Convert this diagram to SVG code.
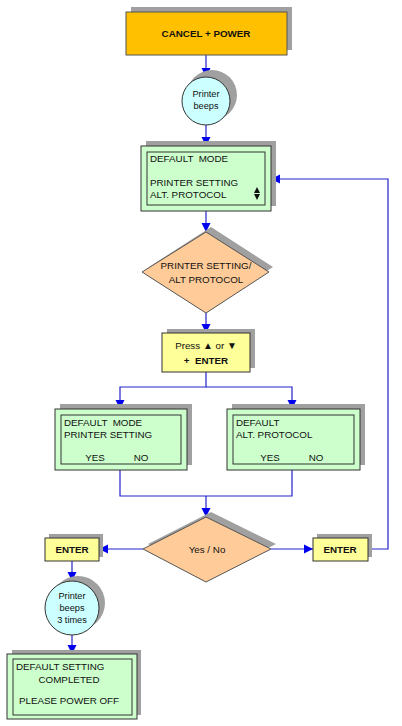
<svg xmlns="http://www.w3.org/2000/svg" width="402" height="726" viewBox="0 0 402 726">
<defs>
<marker id="ah" viewBox="0 0 10 10" refX="10" refY="5" markerWidth="9" markerHeight="10" markerUnits="userSpaceOnUse" orient="auto">
<path d="M0,0 L10,5 L0,10 z" fill="#0000EE"/>
</marker>
</defs>
<style>
text{font-family:"Liberation Sans",Arial,sans-serif;font-size:9.8px;fill:#111;white-space:pre}
.b{font-weight:bold}
.c{text-anchor:middle}
.sh{fill:#A0A0A0}
.lcd{fill:#CCFFCC;stroke:#333;stroke-width:1}
.yel{fill:#FFFF99;stroke:#333;stroke-width:1}
.dia{fill:#FFCC99;stroke:#555;stroke-width:1}
.cir{fill:#CCFFFF;stroke:#333;stroke-width:1}
.ln{fill:none;stroke:#2222CC;stroke-width:1.2}
</style>
<rect width="402" height="726" fill="#fff"/>
<g id="connectors">
<path class="ln" d="M206,55 V77" marker-end="url(#ah)"/>
<path class="ln" d="M206,125 V146" marker-end="url(#ah)"/>
<path class="ln" d="M206,211 V232" marker-end="url(#ah)"/>
<path class="ln" d="M206,313 V333" marker-end="url(#ah)"/>
<path class="ln" d="M206,372 V387 H120 V409" marker-end="url(#ah)"/>
<path class="ln" d="M206,387 H292 V409" marker-end="url(#ah)"/>
<path class="ln" d="M120,470 V496 H292 V470"/>
<path class="ln" d="M206,496 V517" marker-end="url(#ah)"/>
<path class="ln" d="M143,549 H99" marker-end="url(#ah)"/>
<path class="ln" d="M271,549 H313" marker-end="url(#ah)"/>
<path class="ln" d="M368,549 H388 V179 H271" marker-end="url(#ah)"/>
<path class="ln" d="M72,561 V581" marker-end="url(#ah)"/>
<path class="ln" d="M72,635 V654" marker-end="url(#ah)"/>
</g>
<g id="start">
<rect class="sh" x="131" y="7" width="161" height="43"/>
<rect x="126" y="12" width="161" height="43" fill="#FFC000" stroke="#555" stroke-width="1"/>
<text class="b c" x="206" y="37">CANCEL + POWER</text>
</g>
<g id="beep1">
<circle class="sh" cx="212" cy="95" r="25"/>
<circle class="cir" cx="206" cy="101" r="24"/>
<text class="c" x="206" y="97" style="font-size:9.2px">Printer</text>
<text class="c" x="206" y="109" style="font-size:9.2px">beeps</text>
</g>
<g id="lcd1">
<rect class="sh" x="146" y="141" width="130" height="65"/>
<rect class="lcd" x="141" y="146" width="130" height="65"/>
<rect class="lcd" x="147" y="152" width="118" height="53"/>
<text x="150" y="162">DEFAULT  MODE</text>
<text x="150" y="186">PRINTER SETTING</text>
<text x="150" y="198">ALT. PROTOCOL</text>
<polygon points="257,187 260,193 254,193" fill="#111"/>
<polygon points="254,194 260,194 257,200" fill="#111"/>
</g>
<g id="choice">
<polygon class="sh" points="211,227 273,267 211,307 149,267"/>
<polygon class="dia" points="206,232 269,272 206,313 142,272"/>
<text class="c" x="206" y="269">PRINTER SETTING/</text>
<text class="c" x="206" y="283">ALT PROTOCOL</text>
</g>
<g id="press">
<rect class="sh" x="167" y="329" width="88" height="39"/>
<rect class="yel" x="162" y="333" width="88" height="39"/>
<text class="c" x="206" y="349">Press <tspan style="font-size:10px">▲</tspan> or <tspan style="font-size:10px">▼</tspan></text>
<text class="c b" x="206" y="364">+  ENTER</text>
</g>
<g id="lcd2">
<rect class="sh" x="60" y="404" width="132" height="61"/>
<rect class="lcd" x="55" y="409" width="132" height="61"/>
<rect class="lcd" x="61" y="415" width="120" height="49"/>
<text x="64" y="426">DEFAULT  MODE</text>
<text x="64" y="438">PRINTER SETTING</text>
<text class="c" x="95" y="461">YES</text>
<text class="c" x="141" y="461">NO</text>
</g>
<g id="lcd3">
<rect class="sh" x="232" y="404" width="133" height="61"/>
<rect class="lcd" x="227" y="409" width="133" height="61"/>
<rect class="lcd" x="233" y="415" width="121" height="49"/>
<text x="236" y="426">DEFAULT</text>
<text x="236" y="438">ALT. PROTOCOL</text>
<text class="c" x="270" y="461">YES</text>
<text class="c" x="316" y="461">NO</text>
</g>
<g id="yesno">
<polygon class="sh" points="211,512 276,544 211,577 148,544"/>
<polygon class="dia" points="206,517 271,549 206,582 143,549"/>
<text class="c" x="207" y="553">Yes / No</text>
</g>
<g id="enterL">
<rect class="sh" x="49" y="534" width="54" height="23"/>
<rect class="yel" x="45" y="538" width="54" height="23"/>
<text class="c b" x="72" y="553">ENTER</text>
</g>
<g id="enterR">
<rect class="sh" x="317" y="534" width="55" height="23"/>
<rect class="yel" x="313" y="538" width="55" height="23"/>
<text class="c b" x="340" y="553">ENTER</text>
</g>
<g id="beep3">
<circle class="sh" cx="78" cy="603" r="27"/>
<circle class="cir" cx="72" cy="608" r="27"/>
<text class="c" x="72" y="599" style="font-size:9.2px">Printer</text>
<text class="c" x="72" y="611" style="font-size:9.2px">beeps</text>
<text class="c" x="72" y="623" style="font-size:9.2px">3 times</text>
</g>
<g id="done">
<rect class="sh" x="12" y="650" width="129" height="65"/>
<rect class="lcd" x="7" y="654" width="130" height="65"/>
<rect class="lcd" x="13" y="659" width="119" height="56"/>
<text x="16" y="670">DEFAULT SETTING</text>
<text class="c" x="69" y="683">COMPLETED</text>
<text class="c" x="69" y="704">PLEASE POWER OFF</text>
</g>
</svg>
